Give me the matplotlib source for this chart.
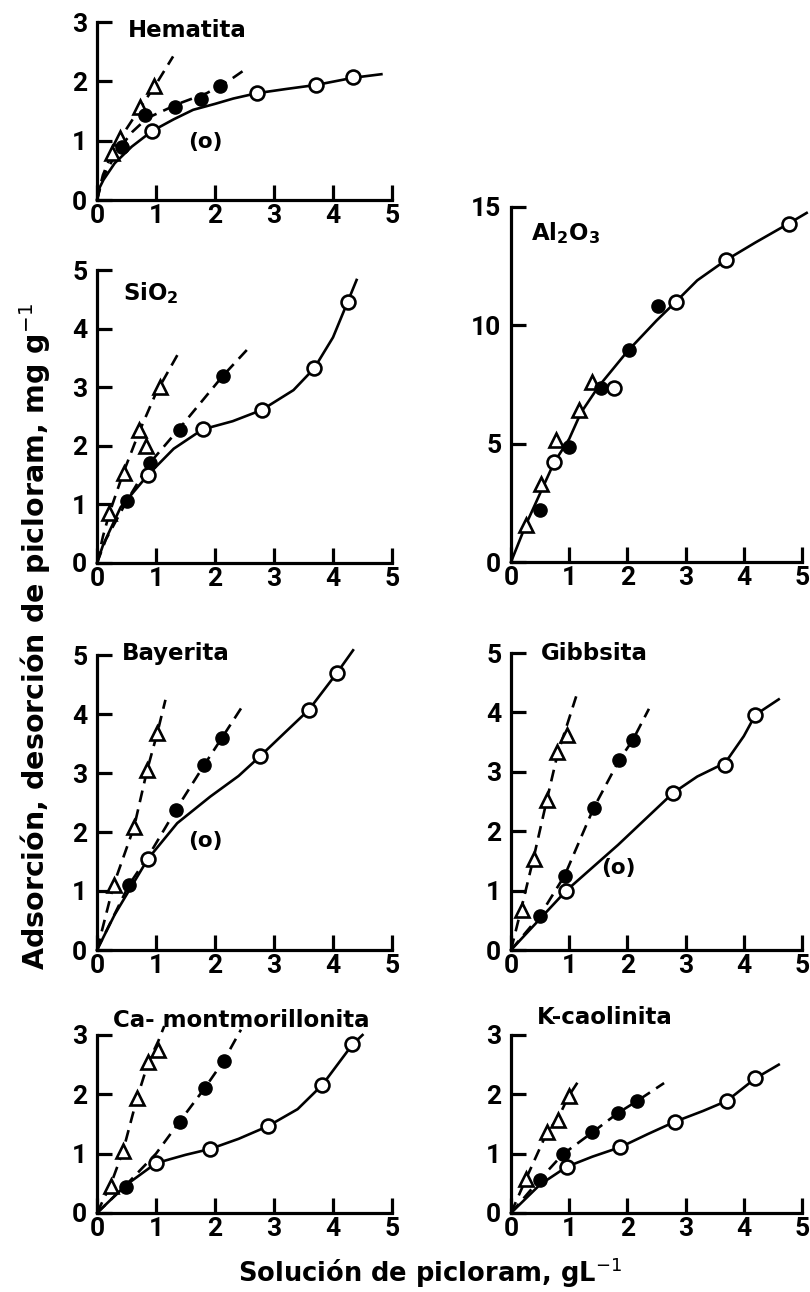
import matplotlib
matplotlib.use('Agg')
import matplotlib.pyplot as plt
from matplotlib import font_manager as fm

# ---------------- data ----------------
# Hematita
hem_tri_x = [0.25, 0.39, 0.73, 0.97]
hem_tri_y = [0.79, 1.05, 1.57, 1.92]
hem_tri_cx = [0, 0.1, 0.25, 0.5, 0.75, 1.0, 1.29]
hem_tri_cy = [0, 0.42, 0.78, 1.2, 1.58, 1.95, 2.42]
hem_fil_x = [0.42, 0.81, 1.32, 1.77, 2.08]
hem_fil_y = [0.90, 1.43, 1.57, 1.71, 1.92]
hem_fil_cx = [0, 0.1, 0.25, 0.42, 0.6, 0.85, 1.4, 1.86, 2.25, 2.54]
hem_fil_cy = [0, 0.38, 0.65, 0.92, 1.15, 1.38, 1.63, 1.80, 2.02, 2.22]
hem_opn_x = [0.93, 2.71, 3.72, 4.34]
hem_opn_y = [1.16, 1.80, 1.94, 2.08]
hem_opn_cx = [0, 0.04, 0.11, 0.3, 0.59, 0.93, 1.3, 1.63, 2.0, 2.31, 2.71, 3.2, 3.72, 4.34, 4.82]
hem_opn_cy = [0, 0.2, 0.34, 0.62, 0.90, 1.16, 1.36, 1.52, 1.62, 1.71, 1.80, 1.87, 1.94, 2.06, 2.12]

# SiO2
sio_tri_x = [0.21, 0.45, 0.72, 0.83, 1.06]
sio_tri_y = [0.85, 1.53, 2.27, 1.99, 3.01]
sio_tri_cx = [0, 0.1, 0.21, 0.45, 0.72, 1.0, 1.38]
sio_tri_cy = [0, 0.45, 0.85, 1.55, 2.25, 2.9, 3.58]
sio_fil_x = [0.50, 0.89, 1.40, 2.13]
sio_fil_y = [1.05, 1.70, 2.27, 3.19]
sio_fil_cx = [0, 0.15, 0.5, 0.89, 1.4, 2.13, 2.59]
sio_fil_cy = [0, 0.4, 1.05, 1.7, 2.3, 3.19, 3.69]
sio_opn_x = [0.87, 1.79, 2.79, 3.68, 4.25]
sio_opn_y = [1.51, 2.28, 2.61, 3.32, 4.46]
sio_opn_cx = [0, 0.1, 0.4, 0.87, 1.3, 1.79, 2.3, 2.79, 3.33, 3.68, 4.0, 4.25, 4.40]
sio_opn_cy = [0, 0.3, 0.95, 1.51, 1.95, 2.28, 2.42, 2.61, 2.95, 3.32, 3.85, 4.46, 4.83]

# Al2O3
alo_tri_x = [0.26, 0.51, 0.77, 1.17, 1.40]
alo_tri_y = [1.55, 3.31, 5.14, 6.41, 7.61]
alo_fil_x = [0.49, 1.00, 1.54, 2.03, 2.53]
alo_fil_y = [2.18, 4.86, 7.37, 8.94, 10.80]
alo_opn_x = [0.74, 1.77, 2.83, 3.69, 4.77]
alo_opn_y = [4.23, 7.37, 10.99, 12.75, 14.30]
alo_cx = [0, 0.26, 0.5, 0.74, 1.0, 1.2, 1.5, 2.0, 2.5, 2.83, 3.2, 3.69, 4.2, 4.77, 5.08]
alo_cy = [0, 1.6, 2.9, 4.2, 5.2, 6.3, 7.4, 8.9, 10.2, 10.99, 11.9, 12.75, 13.5, 14.3, 14.75]

# Bayerita
bay_tri_x = [0.28, 0.63, 0.85, 1.02]
bay_tri_y = [1.10, 2.09, 3.05, 3.67]
bay_tri_cx = [0, 0.28, 0.63, 0.85, 1.02, 1.16]
bay_tri_cy = [0, 1.1, 2.09, 3.05, 3.67, 4.24]
bay_fil_x = [0.54, 1.34, 1.82, 2.12]
bay_fil_y = [1.10, 2.38, 3.14, 3.60]
bay_fil_cx = [0, 0.54, 0.9, 1.34, 1.82, 2.12, 2.47]
bay_fil_cy = [0, 1.1, 1.64, 2.38, 3.14, 3.6, 4.14]
bay_opn_x = [0.86, 2.76, 3.59, 4.07]
bay_opn_y = [1.54, 3.28, 4.07, 4.70]
bay_opn_cx = [0, 0.3, 0.86, 1.36, 1.92, 2.4, 2.76, 3.2, 3.59, 4.07, 4.34]
bay_opn_cy = [0, 0.6, 1.54, 2.15, 2.6, 2.95, 3.28, 3.7, 4.07, 4.7, 5.08]

# Gibbsita
gib_tri_x = [0.19, 0.40, 0.61, 0.79, 0.96]
gib_tri_y = [0.67, 1.54, 2.53, 3.34, 3.62]
gib_tri_cx = [0, 0.19, 0.4, 0.61, 0.8, 0.96, 1.12]
gib_tri_cy = [0, 0.75, 1.6, 2.5, 3.3, 3.78, 4.27]
gib_fil_x = [0.49, 0.92, 1.42, 1.86, 2.09]
gib_fil_y = [0.57, 1.25, 2.39, 3.20, 3.53]
gib_fil_cx = [0, 0.49, 0.92, 1.42, 1.86, 2.09, 2.37]
gib_fil_cy = [0, 0.57, 1.25, 2.39, 3.2, 3.53, 4.06]
gib_opn_x = [0.95, 2.78, 3.68, 4.20]
gib_opn_y = [1.00, 2.64, 3.11, 3.96]
gib_opn_cx = [0, 0.95, 1.84, 2.78, 3.2, 3.68, 4.0, 4.2, 4.6]
gib_opn_cy = [0, 1.0, 1.77, 2.64, 2.92, 3.15, 3.6, 3.96, 4.22]

# Ca-montmorillonita
cam_tri_x = [0.24, 0.44, 0.68, 0.87, 1.04]
cam_tri_y = [0.45, 1.04, 1.94, 2.54, 2.75]
cam_tri_cx = [0, 0.24, 0.44, 0.68, 0.87, 1.04, 1.14]
cam_tri_cy = [0, 0.5, 1.04, 1.94, 2.54, 2.9, 3.15]
cam_fil_x = [0.49, 1.40, 1.83, 2.15]
cam_fil_y = [0.44, 1.54, 2.11, 2.57]
cam_fil_cx = [0, 0.49, 1.0, 1.4, 1.83, 2.15, 2.44]
cam_fil_cy = [0, 0.47, 1.0, 1.54, 2.11, 2.57, 3.09]
cam_opn_x = [1.00, 1.92, 2.89, 3.82, 4.33]
cam_opn_y = [0.84, 1.08, 1.46, 2.16, 2.84]
cam_opn_cx = [0, 0.49, 1.0, 1.5, 1.92, 2.4, 2.89, 3.4, 3.82, 4.15, 4.33, 4.5]
cam_opn_cy = [0, 0.47, 0.84, 0.98, 1.08, 1.25, 1.46, 1.75, 2.16, 2.6, 2.84, 3.0]

# K-caolinita
kca_tri_x = [0.26, 0.62, 0.81, 0.99]
kca_tri_y = [0.58, 1.36, 1.56, 1.97]
kca_tri_cx = [0, 0.26, 0.62, 0.81, 0.99, 1.19]
kca_tri_cy = [0, 0.58, 1.36, 1.6, 1.97, 2.27]
kca_fil_x = [0.49, 0.89, 1.40, 1.83, 2.17]
kca_fil_y = [0.56, 0.99, 1.36, 1.68, 1.89]
kca_fil_cx = [0, 0.49, 0.89, 1.4, 1.83, 2.17, 2.63]
kca_fil_cy = [0, 0.56, 0.99, 1.36, 1.68, 1.89, 2.19]
kca_opn_x = [0.96, 1.88, 2.82, 3.71, 4.20]
kca_opn_y = [0.78, 1.11, 1.54, 1.89, 2.27]
kca_opn_cx = [0, 0.5, 0.96, 1.4, 1.88, 2.35, 2.82, 3.3, 3.71, 4.2, 4.6]
kca_opn_cy = [0, 0.48, 0.78, 0.95, 1.11, 1.33, 1.54, 1.72, 1.89, 2.27, 2.5]

x_ticks = [0, 1, 2, 3, 4, 5]
titles = ['Hematita', r'SiO$_\mathbf{2}$', r'Al$_\mathbf{2}$O$_\mathbf{3}$',
          'Bayerita', 'Gibbsita', 'Ca- montmorillonita', 'K-caolinita']
y_label = 'Adsorción, desorción de picloram, mg g$^{-1}$'
x_label = 'Solución de picloram, gL$^{-1}$'

# ---------------- fonts ----------------
names = {f.name for f in fm.fontManager.ttflist}
if 'Liberation Sans Narrow' in names:
    TICKFONT, TICKSIZE = 'Liberation Sans Narrow', 21
elif 'Roboto' in names:
    TICKFONT, TICKSIZE = 'Roboto', 19
else:
    TICKFONT, TICKSIZE = 'DejaVu Sans', 17
plt.rcParams['font.family'] = ['DejaVu Sans']
plt.rcParams['mathtext.fontset'] = 'dejavusans'

fig = plt.figure(figsize=(8.10, 12.92), dpi=100)

W, H = 810.0, 1292.0
def add_axes(x0, x1, ybot, ytop):
    return fig.add_axes([x0 / W, 1 - ybot / H, (x1 - x0) / W, (ybot - ytop) / H])

LC = (97, 392)
RC = (511, 802)

DASH = (0, (4.5, 2.8))
LW = 1.9

def series(ax, mx, my, cx, cy, kind, ls):
    ax.plot(cx, cy, color='black', lw=LW, linestyle=ls, zorder=2, clip_on=False)
    if kind == 'tri':
        ax.plot(mx, my, linestyle='none', marker='^', ms=10.5, mfc='white',
                mec='black', mew=1.9, zorder=4, clip_on=False)
    elif kind == 'fil':
        ax.plot(mx, my, linestyle='none', marker='o', ms=9.5, mfc='black',
                mec='black', mew=1.0, zorder=4, clip_on=False)
    else:
        ax.plot(mx, my, linestyle='none', marker='o', ms=10.0, mfc='white',
                mec='black', mew=1.9, zorder=5, clip_on=False)

def style(ax, ymax, yticks):
    ax.set_xlim(0, 5)
    ax.set_ylim(0, ymax)
    ax.set_xticks(x_ticks)
    ax.set_yticks(yticks)
    for s in ['top', 'right']:
        ax.spines[s].set_visible(False)
    for s in ['left', 'bottom']:
        ax.spines[s].set_linewidth(2.3)
    ax.tick_params(direction='in', length=11, width=2.3)
    ax.tick_params(axis='y', pad=7)
    ax.tick_params(axis='x', pad=3)
    for lab in ax.get_xticklabels() + ax.get_yticklabels():
        lab.set_fontfamily(TICKFONT)
        lab.set_fontsize(TICKSIZE)
        lab.set_fontweight('bold')
    ax.patch.set_alpha(0)

def title(ax, x, y, txt):
    ax.text(x, y, txt, fontsize=16.5, fontweight='bold', ha='left', va='center',
            clip_on=False)

def paren(ax, x, y):
    ax.text(x, y, '(o)', fontsize=15.5, fontweight='bold', ha='center', va='center')

# Hematita
ax = add_axes(LC[0], LC[1], 200, 22)
series(ax, hem_tri_x, hem_tri_y, hem_tri_cx, hem_tri_cy, 'tri', DASH)
series(ax, hem_fil_x, hem_fil_y, hem_fil_cx, hem_fil_cy, 'fil', DASH)
series(ax, hem_opn_x, hem_opn_y, hem_opn_cx, hem_opn_cy, 'opn', '-')
style(ax, 3, [0, 1, 2, 3])
title(ax, 0.53, 2.86, titles[0])
paren(ax, 1.83, 0.98)

# SiO2
ax = add_axes(LC[0], LC[1], 563, 270)
series(ax, sio_tri_x, sio_tri_y, sio_tri_cx, sio_tri_cy, 'tri', DASH)
series(ax, sio_fil_x, sio_fil_y, sio_fil_cx, sio_fil_cy, 'fil', DASH)
series(ax, sio_opn_x, sio_opn_y, sio_opn_cx, sio_opn_cy, 'opn', '-')
style(ax, 5, [0, 1, 2, 3, 4, 5])
title(ax, 0.44, 4.6, titles[1])

# Al2O3
ax = add_axes(RC[0], RC[1], 562, 207)
ax.plot(alo_cx, alo_cy, color='black', lw=LW, zorder=2, clip_on=False)
series(ax, alo_tri_x, alo_tri_y, [], [], 'tri', '-')
series(ax, alo_fil_x, alo_fil_y, [], [], 'fil', '-')
series(ax, alo_opn_x, alo_opn_y, [], [], 'opn', '-')
style(ax, 15, [0, 5, 10, 15])
title(ax, 0.34, 13.9, titles[2])

# Bayerita
ax = add_axes(LC[0], LC[1], 950, 655)
series(ax, bay_tri_x, bay_tri_y, bay_tri_cx, bay_tri_cy, 'tri', DASH)
series(ax, bay_fil_x, bay_fil_y, bay_fil_cx, bay_fil_cy, 'fil', DASH)
series(ax, bay_opn_x, bay_opn_y, bay_opn_cx, bay_opn_cy, 'opn', '-')
style(ax, 5, [0, 1, 2, 3, 4, 5])
title(ax, 0.42, 5.03, titles[3])
paren(ax, 1.83, 1.84)

# Gibbsita
ax = add_axes(RC[0], RC[1], 950, 653)
series(ax, gib_tri_x, gib_tri_y, gib_tri_cx, gib_tri_cy, 'tri', DASH)
series(ax, gib_fil_x, gib_fil_y, gib_fil_cx, gib_fil_cy, 'fil', DASH)
series(ax, gib_opn_x, gib_opn_y, gib_opn_cx, gib_opn_cy, 'opn', '-')
style(ax, 5, [0, 1, 2, 3, 4, 5])
title(ax, 0.52, 5.0, titles[4])
paren(ax, 1.84, 1.38)

# Ca-montmorillonita
ax = add_axes(LC[0], LC[1], 1213, 1035)
series(ax, cam_tri_x, cam_tri_y, cam_tri_cx, cam_tri_cy, 'tri', DASH)
series(ax, cam_fil_x, cam_fil_y, cam_fil_cx, cam_fil_cy, 'fil', DASH)
series(ax, cam_opn_x, cam_opn_y, cam_opn_cx, cam_opn_cy, 'opn', '-')
style(ax, 3, [0, 1, 2, 3])
title(ax, 0.27, 3.24, titles[5])

# K-caolinita
ax = add_axes(RC[0], RC[1], 1213, 1035)
series(ax, kca_tri_x, kca_tri_y, kca_tri_cx, kca_tri_cy, 'tri', DASH)
series(ax, kca_fil_x, kca_fil_y, kca_fil_cx, kca_fil_cy, 'fil', DASH)
series(ax, kca_opn_x, kca_opn_y, kca_opn_cx, kca_opn_cy, 'opn', '-')
style(ax, 3, [0, 1, 2, 3])
title(ax, 0.45, 3.3, titles[6])

fig.text(35 / W, 1 - 636 / H, y_label, rotation=90, ha='center', va='center',
         fontsize=20.5, fontweight='bold')
fig.text(430 / W, 1 - 1273 / H, x_label, ha='center', va='center',
         fontsize=18.5, fontweight='bold')

fig.savefig('out.png', dpi=100, facecolor='white')
